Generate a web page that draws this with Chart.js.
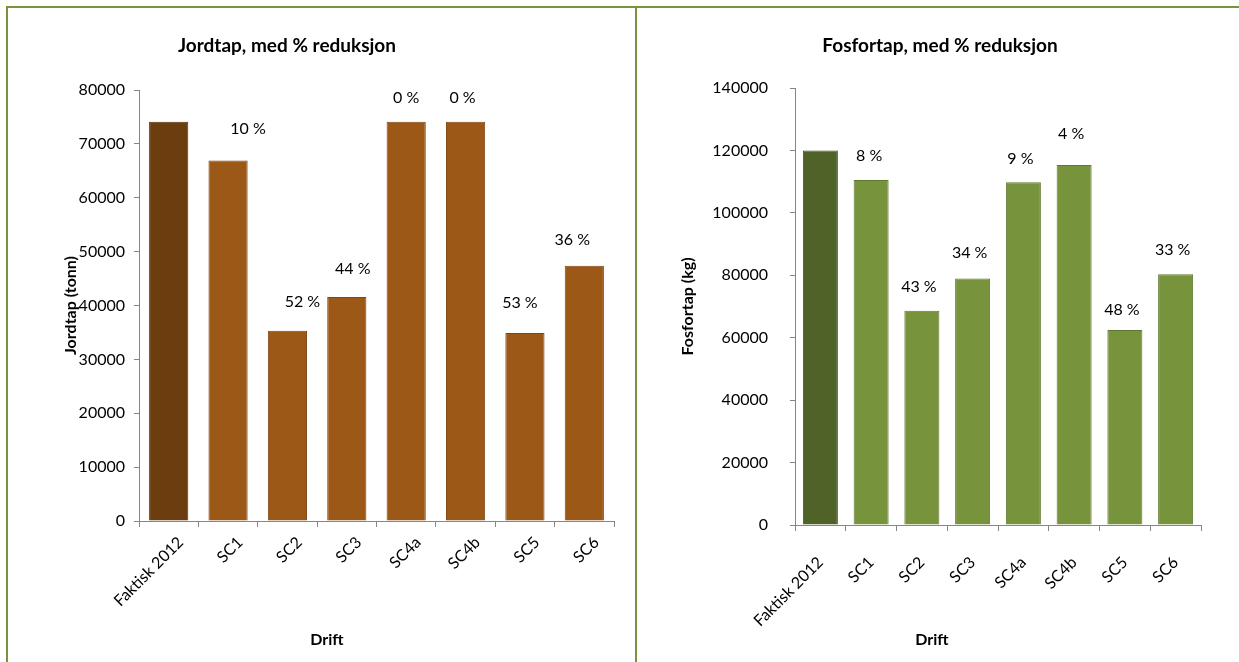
<!DOCTYPE html>
<html>
<head>
<meta charset="utf-8">
<script src="https://cdn.jsdelivr.net/npm/chart.js@4.4.1/dist/chart.umd.min.js"></script>
<style>
  html, body { margin: 0; padding: 0; background: #fff; }
  body { width: 1239px; height: 662px; position: relative; overflow: hidden; font-family: Lato, "Open Sans", sans-serif; }
  .rule { position: absolute; background: #77933C; }
  .cell { position: absolute; top: 8px; height: 654px; }
  canvas { display: block; }
</style>
</head>
<body>
<div class="rule" style="left:6px; top:6px; width:1233px; height:2px;"></div>
<div class="rule" style="left:6px; top:6px; width:2px; height:656px;"></div>
<div class="rule" style="left:635px; top:6px; width:2px; height:656px;"></div>

<div class="cell" style="left:9px; width:626px;"><canvas id="jord" width="626" height="654"></canvas></div>
<div class="cell" style="left:638px; width:601px;"><canvas id="fosfor" width="601" height="654"></canvas></div>

<script>
// Scenario names on the category axis
const categories = ['Faktisk 2012', 'SC1', 'SC2', 'SC3', 'SC4a', 'SC4b', 'SC5', 'SC6'];

// Soil loss (tonn) per scenario
const jordtapValues = [74100, 66900, 35300, 41600, 74100, 74100, 34900, 47400];
// Reduction relative to 2012, shown above each bar
const jordtapReduction = ['', '10 %', '52 %', '44 %', '0 %', '0 %', '53 %', '36 %'];
const jordtapTicks = [0, 10000, 20000, 30000, 40000, 50000, 60000, 70000, 80000];

// Phosphorus loss (kg) per scenario
const fosfortapValues = [120000, 110500, 68600, 79000, 109800, 115300, 62500, 80300];
const fosfortapReduction = ['', '8 %', '43 %', '34 %', '9 %', '4 %', '48 %', '33 %'];
const fosfortapTicks = [0, 20000, 40000, 60000, 80000, 100000, 120000, 140000];

const FONT = 'Lato, "Open Sans", sans-serif';
const AXIS_GREY = '#868686';

// Chart heading and category-axis caption, placed at fixed points of the canvas
const captions = {
  id: 'captions',
  afterDraw(chart, args, opts) {
    const ctx = chart.ctx;
    ctx.save();
    ctx.fillStyle = '#000';
    ctx.textAlign = 'center';
    ctx.textBaseline = 'middle';
    ctx.font = 'bold 19px ' + FONT;
    ctx.fillText(opts.title, opts.titleX, opts.titleY);
    ctx.font = 'bold 16px ' + FONT;
    ctx.fillText(opts.xTitle, opts.xTitleX, opts.xTitleY);
    ctx.restore();
  }
};

// Writes the reduction text above every bar
const reductionLabels = {
  id: 'reductionLabels',
  afterDatasetsDraw(chart, args, opts) {
    const ctx = chart.ctx;
    const meta = chart.getDatasetMeta(0);
    ctx.save();
    ctx.font = '16px ' + FONT;
    ctx.fillStyle = '#000';
    ctx.textAlign = 'center';
    ctx.textBaseline = 'middle';
    meta.data.forEach((bar, i) => {
      const txt = opts.labels[i];
      if (txt) ctx.fillText(txt, bar.x + opts.dx[i], bar.y - opts.dy[i]);
    });
    ctx.restore();
  }
};

function makeChart(id, cfg) {
  const ticks = cfg.ticks;
  return new Chart(document.getElementById(id), {
    type: 'bar',
    data: {
      labels: categories,
      datasets: [{
        data: cfg.values,
        backgroundColor: categories.map((c, i) => i === 0 ? cfg.baseColor : cfg.color),
        borderColor: categories.map((c, i) => i === 0 ? cfg.baseBorder : cfg.border),
        borderWidth: 1,
        borderSkipped: 'bottom',
        barPercentage: cfg.barPct,
        categoryPercentage: 1
      }]
    },
    plugins: [reductionLabels, captions],
    options: {
      responsive: false,
      animation: false,
      devicePixelRatio: 1,
      layout: { padding: { left: cfg.padLeft, right: cfg.padRight, top: cfg.padTop, bottom: cfg.padBottom } },
      plugins: {
        legend: { display: false },
        tooltip: { enabled: false },
        title: { display: false },
        captions: {
          title: cfg.title, titleX: cfg.titleX, titleY: 38,
          xTitle: 'Drift', xTitleX: cfg.xTitleX, xTitleY: 632
        },
        reductionLabels: { labels: cfg.reduction, dx: cfg.labelDx, dy: cfg.labelDy }
      },
      scales: {
        x: {
          offset: true,
          afterFit(scale) { scale.height = cfg.xHeight; },
          grid: { display: true, offset: true, drawOnChartArea: false, drawTicks: true, tickLength: 6, color: AXIS_GREY },
          border: { display: true, color: AXIS_GREY, width: 1 },
          ticks: { color: '#000', font: { family: FONT, size: 16 }, minRotation: 45, maxRotation: 45,
                   padding: cfg.xTickPad, labelOffset: cfg.xLabelShift, autoSkip: false }
        },
        y: {
          min: ticks[0],
          max: ticks[ticks.length - 1],
          afterFit(scale) { scale.width = cfg.yWidth; },
          afterBuildTicks(scale) { scale.ticks = ticks.map(v => ({ value: v })); },
          grid: { display: true, drawOnChartArea: false, drawTicks: true, tickLength: 5, color: AXIS_GREY },
          border: { display: true, color: AXIS_GREY, width: 1 },
          ticks: { color: '#000', font: { family: FONT, size: 16 }, padding: cfg.tickPad, callback: v => String(v) },
          title: { display: true, text: cfg.yTitle, color: '#000', font: { family: FONT, size: 16, weight: 'bold', lineHeight: 1.2 }, padding: 0 }
        }
      }
    }
  });
}

makeChart('jord', {
  title: 'Jordtap, med % reduksjon',
  yTitle: 'Jordtap (tonn)',
  values: jordtapValues,
  reduction: jordtapReduction,
  ticks: jordtapTicks,
  baseColor: '#6B3D0F', baseBorder: '#5A330C',
  color: '#9C5816', border: '#7E4612',
  barPct: 0.66,
  padLeft: 52.4, padRight: 21, padTop: 82, padBottom: 0,
  yWidth: 77.6, tickPad: 9, xHeight: 141,
  xTickPad: 6, xLabelShift: 12,
  titleX: 278, xTitleX: 318,
  labelDx: [0, 20, 15, 6, 0, -3, -5, -12],
  labelDy: [0, 32, 29, 28, 24, 24, 30, 26]
});

makeChart('fosfor', {
  title: 'Fosfortap, med % reduksjon',
  yTitle: 'Fosfortap (kg)',
  values: fosfortapValues,
  reduction: fosfortapReduction,
  ticks: fosfortapTicks,
  baseColor: '#4F6228', baseBorder: '#435422',
  color: '#77933C', border: '#5F7830',
  barPct: 0.69,
  padLeft: 40.4, padRight: 38, padTop: 80, padBottom: 0,
  yWidth: 116.6, tickPad: 22, xHeight: 137,
  xTickPad: 22, xLabelShift: 0,
  titleX: 302, xTitleX: 294,
  labelDx: [0, -2, -3, -3, -3, -3, -3, -3],
  labelDy: [0, 24, 24, 26, 23, 31, 20, 25]
});
</script>
</body>
</html>
